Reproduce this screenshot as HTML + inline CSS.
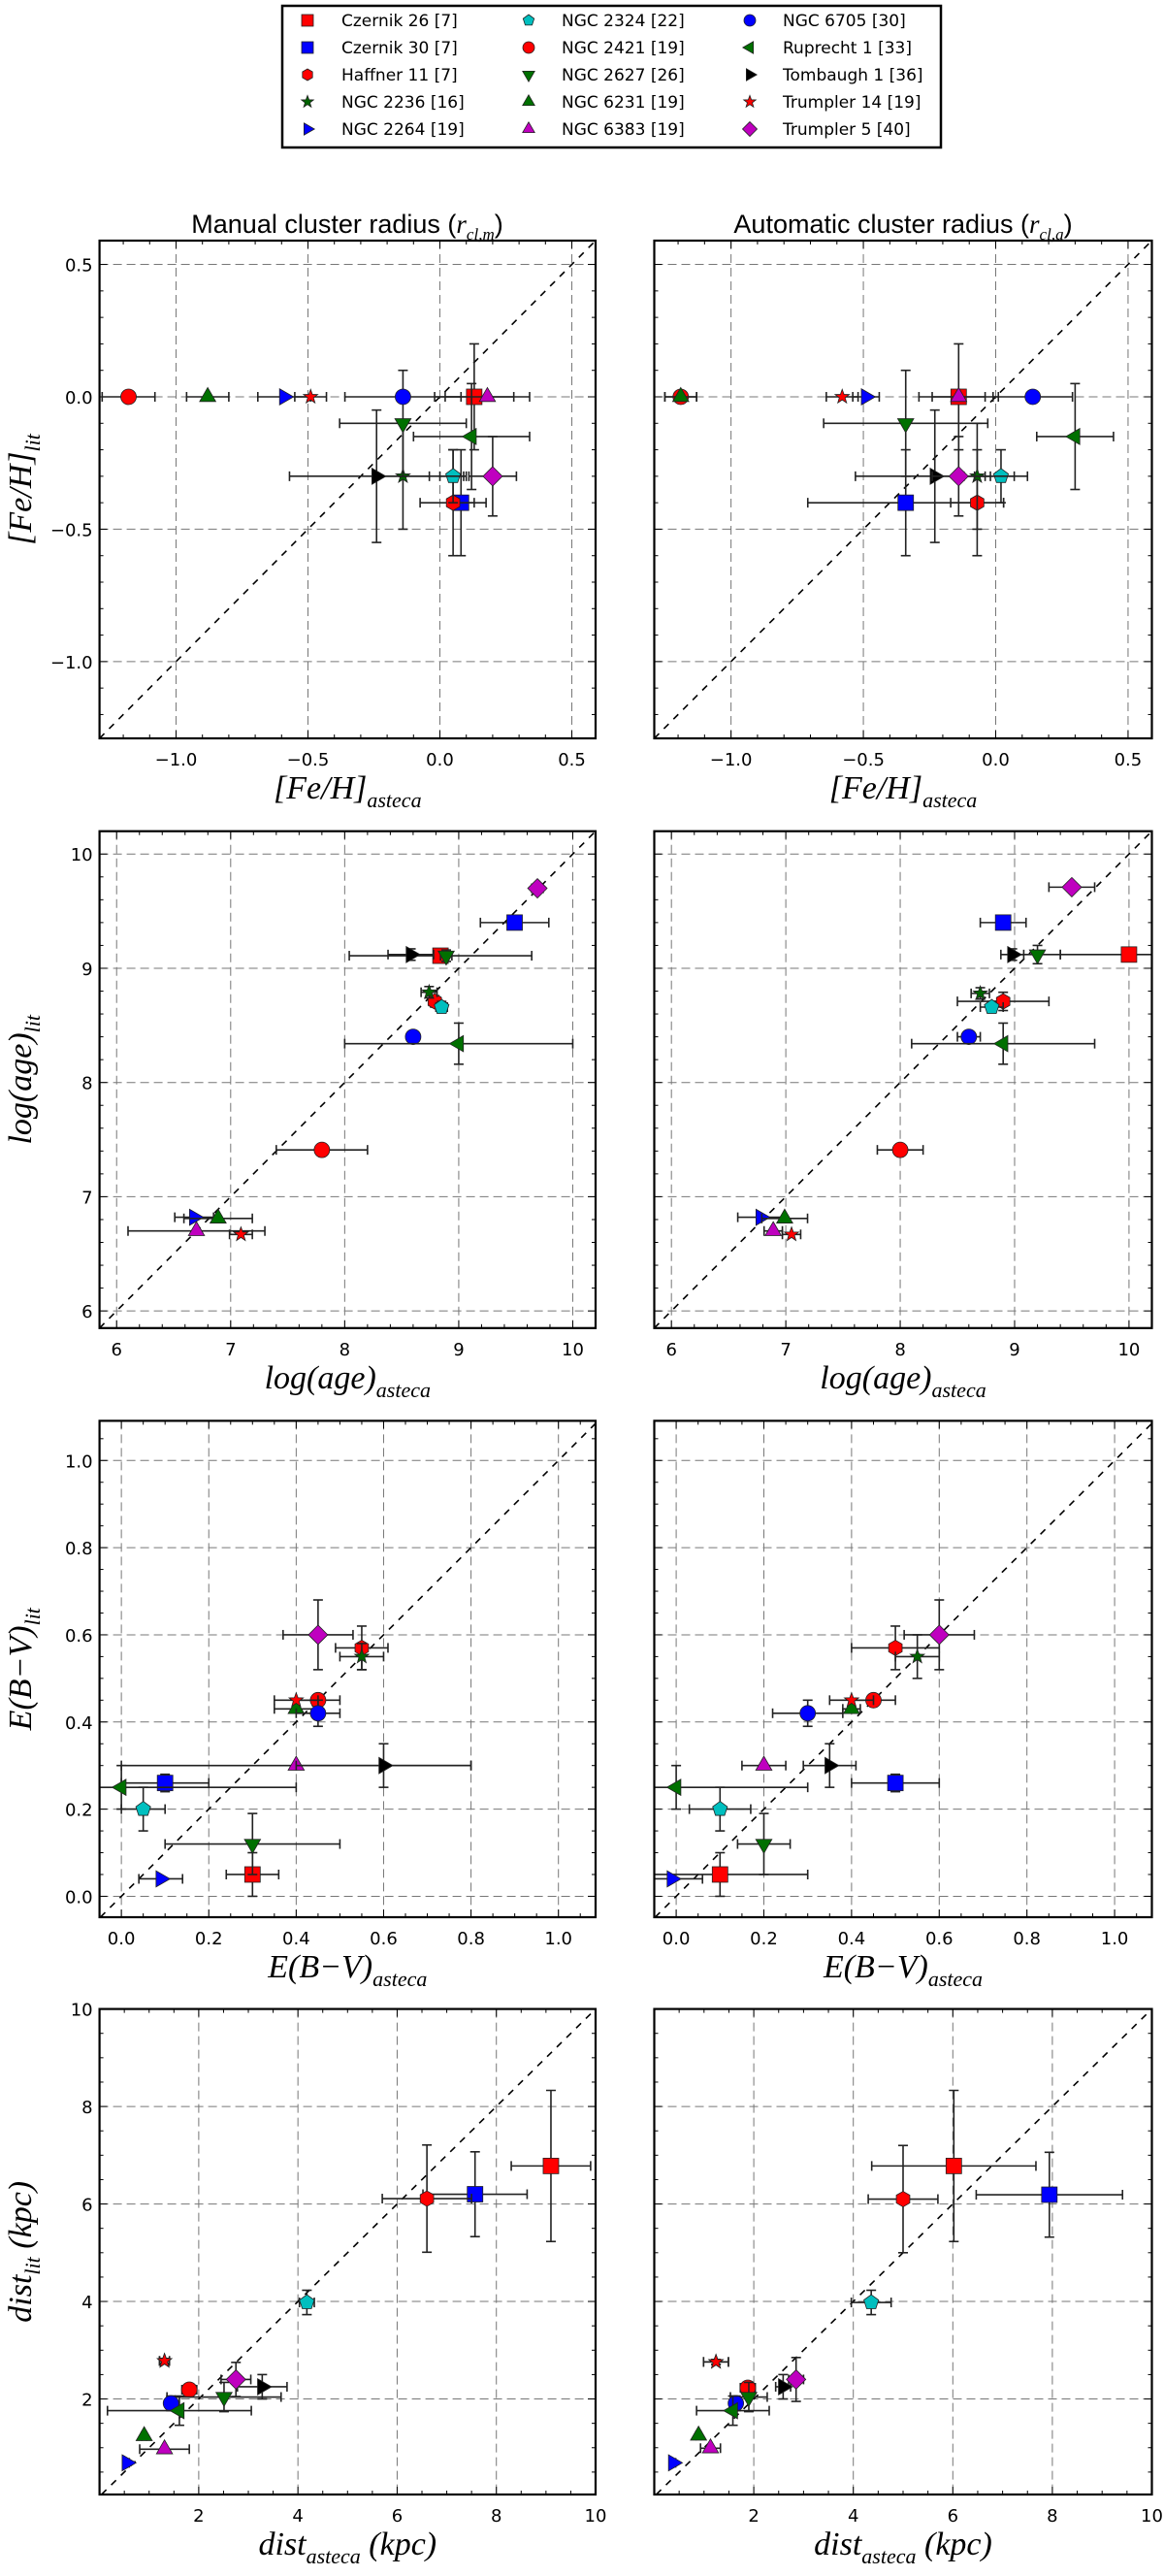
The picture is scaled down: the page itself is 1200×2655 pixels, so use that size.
<!DOCTYPE html>
<html><head><meta charset="utf-8">
<style>
html,body{margin:0;padding:0;background:#fff;}
svg{display:block;}
</style></head>
<body>
<svg id="fig" xmlns="http://www.w3.org/2000/svg" width="1200" height="2655" viewBox="0 0 1200 2655">
<rect x="0" y="0" width="1200" height="2655" fill="#fff"/>
<g id="legend"></g>
<text x="358" y="240" text-anchor="middle" font-family="Liberation Sans, sans-serif" font-size="27">Manual cluster radius (<tspan font-family="Liberation Serif, serif" font-style="italic">r</tspan><tspan font-family="Liberation Serif, serif" font-style="italic" font-size="17" dy="7">cl,m</tspan><tspan dy="-7">)</tspan></text>
<text x="931" y="240" text-anchor="middle" font-family="Liberation Sans, sans-serif" font-size="27">Automatic cluster radius (<tspan font-family="Liberation Serif, serif" font-style="italic">r</tspan><tspan font-family="Liberation Serif, serif" font-style="italic" font-size="17" dy="7">cl,a</tspan><tspan dy="-7">)</tspan></text>
<g id="panels"></g>
</svg>
<script>
// ---------- data ----------
const clusterNames = ["Czernik 26 [7]","Czernik 30 [7]","Haffner 11 [7]","NGC 2236 [16]","NGC 2264 [19]","NGC 2324 [22]","NGC 2421 [19]","NGC 2627 [26]","NGC 6231 [19]","NGC 6383 [19]","NGC 6705 [30]","Ruprecht 1 [33]","Tombaugh 1 [36]","Trumpler 14 [19]","Trumpler 5 [40]"];
const fehManX    = [0.13,0.08,0.05,-0.14,-0.59,0.05,-1.18,-0.14,-0.88,0.18,-0.14,0.12,-0.24,-0.49,0.20];
const fehManY    = [0,-0.4,-0.4,-0.3,0,-0.3,0,-0.1,0,0,0,-0.15,-0.3,0,-0.3];
const fehManXerr = [0.15,0.05,0.125,0.1,0.1,0.05,0.1,0.24,0.08,0.16,0.22,0.22,0.33,0.06,0.09];
const fehManYerr = [0.2,0.2,0.2,0.2,0,0.1,0,0.2,0,0,0,0.2,0.25,0,0.15];
const fehAutoX    = [-0.14,-0.34,-0.07,-0.07,-0.49,0.02,-1.19,-0.34,-1.19,-0.14,0.14,0.30,-0.23,-0.58,-0.14];
const fehAutoY    = [0,-0.4,-0.4,-0.3,0,-0.3,0,-0.1,0,0,0,-0.15,-0.3,0,-0.3];
const fehAutoXerr = [0.15,0.37,0.1,0.05,0.05,0.1,0.06,0.31,0.06,0.1,0.15,0.145,0.3,0.06,0.1];
const fehAutoYerr = [0.2,0.2,0.2,0.2,0,0.1,0,0.2,0,0,0,0.2,0.25,0,0.15];
const ageManX    = [8.84,9.49,8.79,8.74,6.68,8.85,7.8,8.89,6.89,6.7,8.6,9.0,8.58,7.09,9.69];
const ageManY    = [9.11,9.40,8.71,8.79,6.82,8.66,7.41,9.11,6.81,6.70,8.40,8.34,9.12,6.67,9.70];
const ageManXerr = [0.8,0.3,0.05,0.07,0.17,0.05,0.4,0.05,0.3,0.6,0.05,1.0,0.2,0.1,0.05];
const ageManYerr = [0.05,0.05,0.05,0.05,0,0.05,0,0.05,0,0,0,0.18,0.05,0,0];
const ageAutoX    = [10.0,8.9,8.9,8.7,6.78,8.8,8.0,9.2,6.99,6.89,8.6,8.9,8.98,7.05,9.5];
const ageAutoY    = [9.12,9.40,8.71,8.78,6.82,8.66,7.41,9.12,6.81,6.70,8.40,8.34,9.12,6.67,9.71];
const ageAutoXerr = [0.6,0.2,0.4,0.08,0.2,0.1,0.2,0.2,0.2,0.08,0.1,0.8,0.1,0.08,0.2];
const ageAutoYerr = [0.05,0.05,0.08,0.05,0,0.05,0,0.08,0,0,0,0.18,0.05,0,0];
const ebvManX    = [0.3,0.1,0.55,0.55,0.09,0.05,0.45,0.3,0.4,0.4,0.45,0.0,0.6,0.4,0.45];
const ebvManY    = [0.05,0.26,0.57,0.55,0.04,0.20,0.45,0.12,0.43,0.30,0.42,0.25,0.30,0.45,0.60];
const ebvManXerr = [0.06,0.1,0.06,0.05,0.05,0.05,0.05,0.2,0.05,0.4,0.05,0.4,0.2,0.05,0.08];
const ebvManYerr = [0.05,0.02,0.05,0.03,0,0.05,0,0.07,0,0,0.03,0.05,0.05,0,0.08];
const ebvAutoX    = [0.1,0.5,0.5,0.55,-0.01,0.1,0.45,0.2,0.4,0.2,0.3,0.0,0.35,0.4,0.6];
const ebvAutoY    = [0.05,0.26,0.57,0.55,0.04,0.20,0.45,0.12,0.43,0.30,0.42,0.25,0.30,0.45,0.60];
const ebvAutoXerr = [0.2,0.1,0.1,0.05,0.07,0.07,0.05,0.06,0.02,0.05,0.08,0.3,0.06,0.05,0.08];
const ebvAutoYerr = [0.05,0.02,0.05,0.05,0,0.05,0,0.07,0,0,0.03,0.05,0.05,0,0.08];
const distManX    = [9.1,7.57,6.6,1.31,0.55,4.18,1.81,2.51,0.9,1.31,1.44,1.61,3.28,1.31,2.75];
const distManY    = [6.78,6.2,6.11,2.78,0.69,3.98,2.19,2.04,1.24,0.97,1.91,1.76,2.25,2.78,2.4];
const distManXerr = [0.8,1.05,0.9,0.1,0.05,0.15,0.15,1.15,0.05,0.5,0.1,1.45,0.5,0.1,0.3];
const distManYerr = [1.55,0.87,1.1,0.05,0,0.25,0.05,0.3,0,0,0.15,0.3,0.25,0.05,0.35];
const distAutoX    = [6.02,7.94,5.0,1.24,0.38,4.36,1.88,1.9,0.89,1.13,1.64,1.58,2.59,1.24,2.85];
const distAutoY    = [6.78,6.19,6.1,2.76,0.69,3.98,2.23,2.04,1.25,0.99,1.91,1.76,2.25,2.76,2.4];
const distAutoXerr = [1.65,1.47,0.7,0.25,0.05,0.4,0.15,0.37,0.05,0.2,0.1,0.73,0.15,0.25,0.15];
const distAutoYerr = [1.55,0.87,1.1,0.05,0,0.25,0.05,0.3,0,0,0.15,0.3,0.25,0.05,0.45];
const fehTicks  = [-1.0,-0.5,0.0,0.5];
const fehTickLabels = ["\u22121.0","\u22120.5","0.0","0.5"];
const ageTicks  = [6,7,8,9,10];
const ageTickLabels = ["6","7","8","9","10"];
const ebvTicks  = [0.0,0.2,0.4,0.6,0.8,1.0];
const ebvTickLabels = ["0.0","0.2","0.4","0.6","0.8","1.0"];
const distTicks = [2,4,6,8,10];
const distTickLabels = ["2","4","6","8","10"];

// ---------- styling ----------
const shapes = ["square","square","hexagon","star","tright","pentagon","circle","tdown","tup","tup","circle","tleft","tright","star","diamond"];
const colors = ["#ff0000","#0000ff","#ff0000","#006400","#0000ff","#00bfbf","#ff0000","#007000","#007000","#bf00bf","#0000ff","#007000","#000000","#ff0000","#bf00bf"];
const NS = "http://www.w3.org/2000/svg";
function mk(tag, attrs, parent){ const e=document.createElementNS(NS,tag); for(const k in attrs) e.setAttribute(k,attrs[k]); if(parent) parent.appendChild(e); return e; }

function markerEl(shape, cx, cy, r, color, parent){
  let el;
  const poly = pts => mk("polygon",{points:pts.map(p=>(cx+p[0]).toFixed(2)+","+(cy+p[1]).toFixed(2)).join(" "),fill:color,stroke:"#222","stroke-width":0.8},parent);
  const reg = (n,rr,rot)=>{const p=[];for(let i=0;i<n;i++){const a=rot+i*2*Math.PI/n;p.push([rr*Math.cos(a),rr*Math.sin(a)]);}return p;};
  if(shape==="circle") el=mk("circle",{cx:cx,cy:cy,r:r,fill:color,stroke:"#222","stroke-width":0.8},parent);
  else if(shape==="square") el=mk("rect",{x:cx-r,y:cy-r,width:2*r,height:2*r,fill:color,stroke:"#222","stroke-width":0.8},parent);
  else if(shape==="diamond") el=poly(reg(4,r*1.25,-Math.PI/2));
  else if(shape==="hexagon") el=poly(reg(6,r,-Math.PI/2));
  else if(shape==="pentagon") el=poly(reg(5,r,-Math.PI/2));
  else if(shape==="tup") el=poly(reg(3,r*1.2,-Math.PI/2));
  else if(shape==="tdown") el=poly(reg(3,r*1.2,Math.PI/2));
  else if(shape==="tright") el=poly(reg(3,r*1.2,0));
  else if(shape==="tleft") el=poly(reg(3,r*1.2,Math.PI));
  else if(shape==="star"){const p=[];for(let i=0;i<10;i++){const a=-Math.PI/2+i*Math.PI/5;const rr=i%2?r*0.45:r*1.1;p.push([rr*Math.cos(a),rr*Math.sin(a)]);}el=poly(p);}
  return el;
}

// ---------- legend ----------
const lg = document.getElementById("legend");
const lbox = mk("rect",{x:291,y:6,width:679,height:146,fill:"#fff",stroke:"#000","stroke-width":2.5},lg);


const colMarkX=[317,545,773], colTextX=[352,579,807], rowY=[21,49,77,105,133];
clusterNames.forEach((nm,i)=>{
  const c=Math.floor(i/5), r=i%5;
  const g=mk("g",{},lg);
  
  
  markerEl(shapes[i],colMarkX[c],rowY[r],6,colors[i],g);
  const t=mk("text",{x:colTextX[c],y:rowY[r]+6,"font-family":"DejaVu Sans, sans-serif","font-size":"17"},g);
  t.textContent=nm;
});

// ---------- panels ----------
const cols=[[102.6,614],[674.5,1187.5]];
const rows=[[248,761],[856.7,1368.8],[1464.4,1976],[2070.6,2571]];
const rowCfg=[
 {xd:[-1.29,0.59],yd:[-1.29,0.59],ticks:fehTicks,labels:fehTickLabels,minor:0.1,
  xl:'[Fe/H]<tspan font-size="22" dy="9">asteca</tspan>', yl:'[Fe/H]<tspan font-size="22" dy="9">lit</tspan>', name:"feh",
  data:[[fehManX,fehManY,fehManXerr,fehManYerr],[fehAutoX,fehAutoY,fehAutoXerr,fehAutoYerr]]},
 {xd:[5.85,10.2],yd:[5.85,10.2],ticks:ageTicks,labels:ageTickLabels,minor:0.2,
  xl:'log(<tspan font-style="italic">age</tspan>)<tspan font-size="22" font-style="italic" dy="9">asteca</tspan>', yl:'log(<tspan font-style="italic">age</tspan>)<tspan font-size="22" font-style="italic" dy="9">lit</tspan>', name:"age",
  data:[[ageManX,ageManY,ageManXerr,ageManYerr],[ageAutoX,ageAutoY,ageAutoXerr,ageAutoYerr]]},
 {xd:[-0.05,1.085],yd:[-0.048,1.091],ticks:ebvTicks,labels:ebvTickLabels,minor:0.05,
  xl:'E(B\u2212V)<tspan font-size="22" dy="9">asteca</tspan>', yl:'E(B\u2212V)<tspan font-size="22" dy="9">lit</tspan>', name:"ebv",
  data:[[ebvManX,ebvManY,ebvManXerr,ebvManYerr],[ebvAutoX,ebvAutoY,ebvAutoXerr,ebvAutoYerr]]},
 {xd:[0.0,10.0],yd:[0.04,10.0],ticks:distTicks,labels:distTickLabels,minor:0.5,
  xl:'dist<tspan font-size="22" dy="9">asteca</tspan><tspan dy="-9"> (kpc)</tspan>', yl:'dist<tspan font-size="22" dy="9">lit</tspan><tspan dy="-9"> (kpc)</tspan>', name:"dist",
  data:[[distManX,distManY,distManXerr,distManYerr],[distAutoX,distAutoY,distAutoXerr,distAutoYerr]]}
];
const root=document.getElementById("panels");
rowCfg.forEach((cfg,ri)=>{
  const [y0,y1]=rows[ri];
  cols.forEach((col,ci)=>{
    const [x0,x1]=col;
    const sx=v=>x0+(v-cfg.xd[0])/(cfg.xd[1]-cfg.xd[0])*(x1-x0);
    const sy=v=>y1-(v-cfg.yd[0])/(cfg.yd[1]-cfg.yd[0])*(y1-y0);
    const g=mk("g",{},root);
    
    
    const clipId="clip"+ri+ci;
    const cp=mk("clipPath",{id:clipId},g); mk("rect",{x:x0,y:y0,width:x1-x0,height:y1-y0},cp);
    const grid=mk("g",{stroke:"#777","stroke-width":1,"stroke-dasharray":"9,5"},g);
    
    
    cfg.ticks.forEach(t=>{
      if(t>cfg.xd[0]&&t<cfg.xd[1]) mk("line",{x1:sx(t),x2:sx(t),y1:y0,y2:y1},grid);
      if(t>cfg.yd[0]&&t<cfg.yd[1]) mk("line",{x1:x0,x2:x1,y1:sy(t),y2:sy(t)},grid);
    });
    const tk=mk("g",{stroke:"#000","stroke-width":1},g);
    
    
    const lo=Math.ceil(cfg.xd[0]/cfg.minor-1e-6), hi=Math.floor(cfg.xd[1]/cfg.minor+1e-6);
    for(let k=lo;k<=hi;k++){const v=k*cfg.minor;const maj=cfg.ticks.some(t=>Math.abs(t-v)<1e-6);const L=maj?8:4;
      mk("line",{x1:sx(v),x2:sx(v),y1:y1,y2:y1-L},tk);mk("line",{x1:sx(v),x2:sx(v),y1:y0,y2:y0+L},tk);}
    const loy=Math.ceil(cfg.yd[0]/cfg.minor-1e-6), hiy=Math.floor(cfg.yd[1]/cfg.minor+1e-6);
    for(let k=loy;k<=hiy;k++){const v=k*cfg.minor;const maj=cfg.ticks.some(t=>Math.abs(t-v)<1e-6);const L=maj?8:4;
      mk("line",{x1:x0,x2:x0+L,y1:sy(v),y2:sy(v)},tk);mk("line",{x1:x1,x2:x1-L,y1:sy(v),y2:sy(v)},tk);}
    cfg.ticks.forEach((t,i)=>{
      if(t>=cfg.xd[0]-1e-6&&t<=cfg.xd[1]+0.02){
        const tl=mk("text",{x:sx(t),y:y1+28,"text-anchor":"middle","font-family":"DejaVu Sans, sans-serif","font-size":"18"},g);
        
        
        tl.textContent=cfg.labels[i];
      }
      if(ci===0&&t>=cfg.yd[0]-1e-6&&t<=cfg.yd[1]+0.02){
        const tl=mk("text",{x:x0-7,y:sy(t)+7,"text-anchor":"end","font-family":"DejaVu Sans, sans-serif","font-size":"18"},g);
        
        
        tl.textContent=cfg.labels[i];
      }
    });
    const lo2=Math.max(cfg.xd[0],cfg.yd[0]), hi2=Math.min(cfg.xd[1],cfg.yd[1]);
    const dg=mk("line",{x1:sx(lo2),y1:sy(lo2),x2:sx(hi2),y2:sy(hi2),stroke:"#000","stroke-width":1.6,"stroke-dasharray":"7,7","clip-path":"url(#"+clipId+")"},g);
    
    
    const [X,Y,XE,YE]=cfg.data[ci];
    const pts=mk("g",{"clip-path":"url(#"+clipId+")"},g);
    X.forEach((xv,i)=>{
      const pg=mk("g",{},pts);
      
      
      const cx=sx(xv), cy=sy(Y[i]);
      const eb={stroke:"#222","stroke-width":1.6};
      if(XE[i]>0){const a=sx(xv-XE[i]),b=sx(xv+XE[i]);
        mk("line",Object.assign({x1:a,x2:b,y1:cy,y2:cy},eb),pg);
        mk("line",Object.assign({x1:a,x2:a,y1:cy-5,y2:cy+5},eb),pg);
        mk("line",Object.assign({x1:b,x2:b,y1:cy-5,y2:cy+5},eb),pg);}
      if(YE[i]>0){const a=sy(Y[i]-YE[i]),b=sy(Y[i]+YE[i]);
        mk("line",Object.assign({x1:cx,x2:cx,y1:a,y2:b},eb),pg);
        mk("line",Object.assign({x1:cx-5,x2:cx+5,y1:a,y2:a},eb),pg);
        mk("line",Object.assign({x1:cx-5,x2:cx+5,y1:b,y2:b},eb),pg);}
      markerEl(shapes[i],cx,cy,shapes[i]==="star"?7:8,colors[i],pg);
    });
    const fr=mk("rect",{x:x0,y:y0,width:x1-x0,height:y1-y0,fill:"none",stroke:"#000","stroke-width":2.2},g);
    
    
    const xl=mk("text",{x:(x0+x1)/2,y:y1+62,"text-anchor":"middle","font-family":"Liberation Serif, serif","font-style":"italic","font-size":"34"},g);
    
    
    xl.innerHTML=cfg.xl;
    if(ci===0){
      const cyl=(y0+y1)/2;
      const yl=mk("text",{x:0,y:0,"text-anchor":"middle","font-family":"Liberation Serif, serif","font-style":"italic","font-size":"34",transform:"translate(32,"+cyl+") rotate(-90)"},g);
      
      
      yl.innerHTML=cfg.yl;
    }
  });
});
</script>
</body></html>
